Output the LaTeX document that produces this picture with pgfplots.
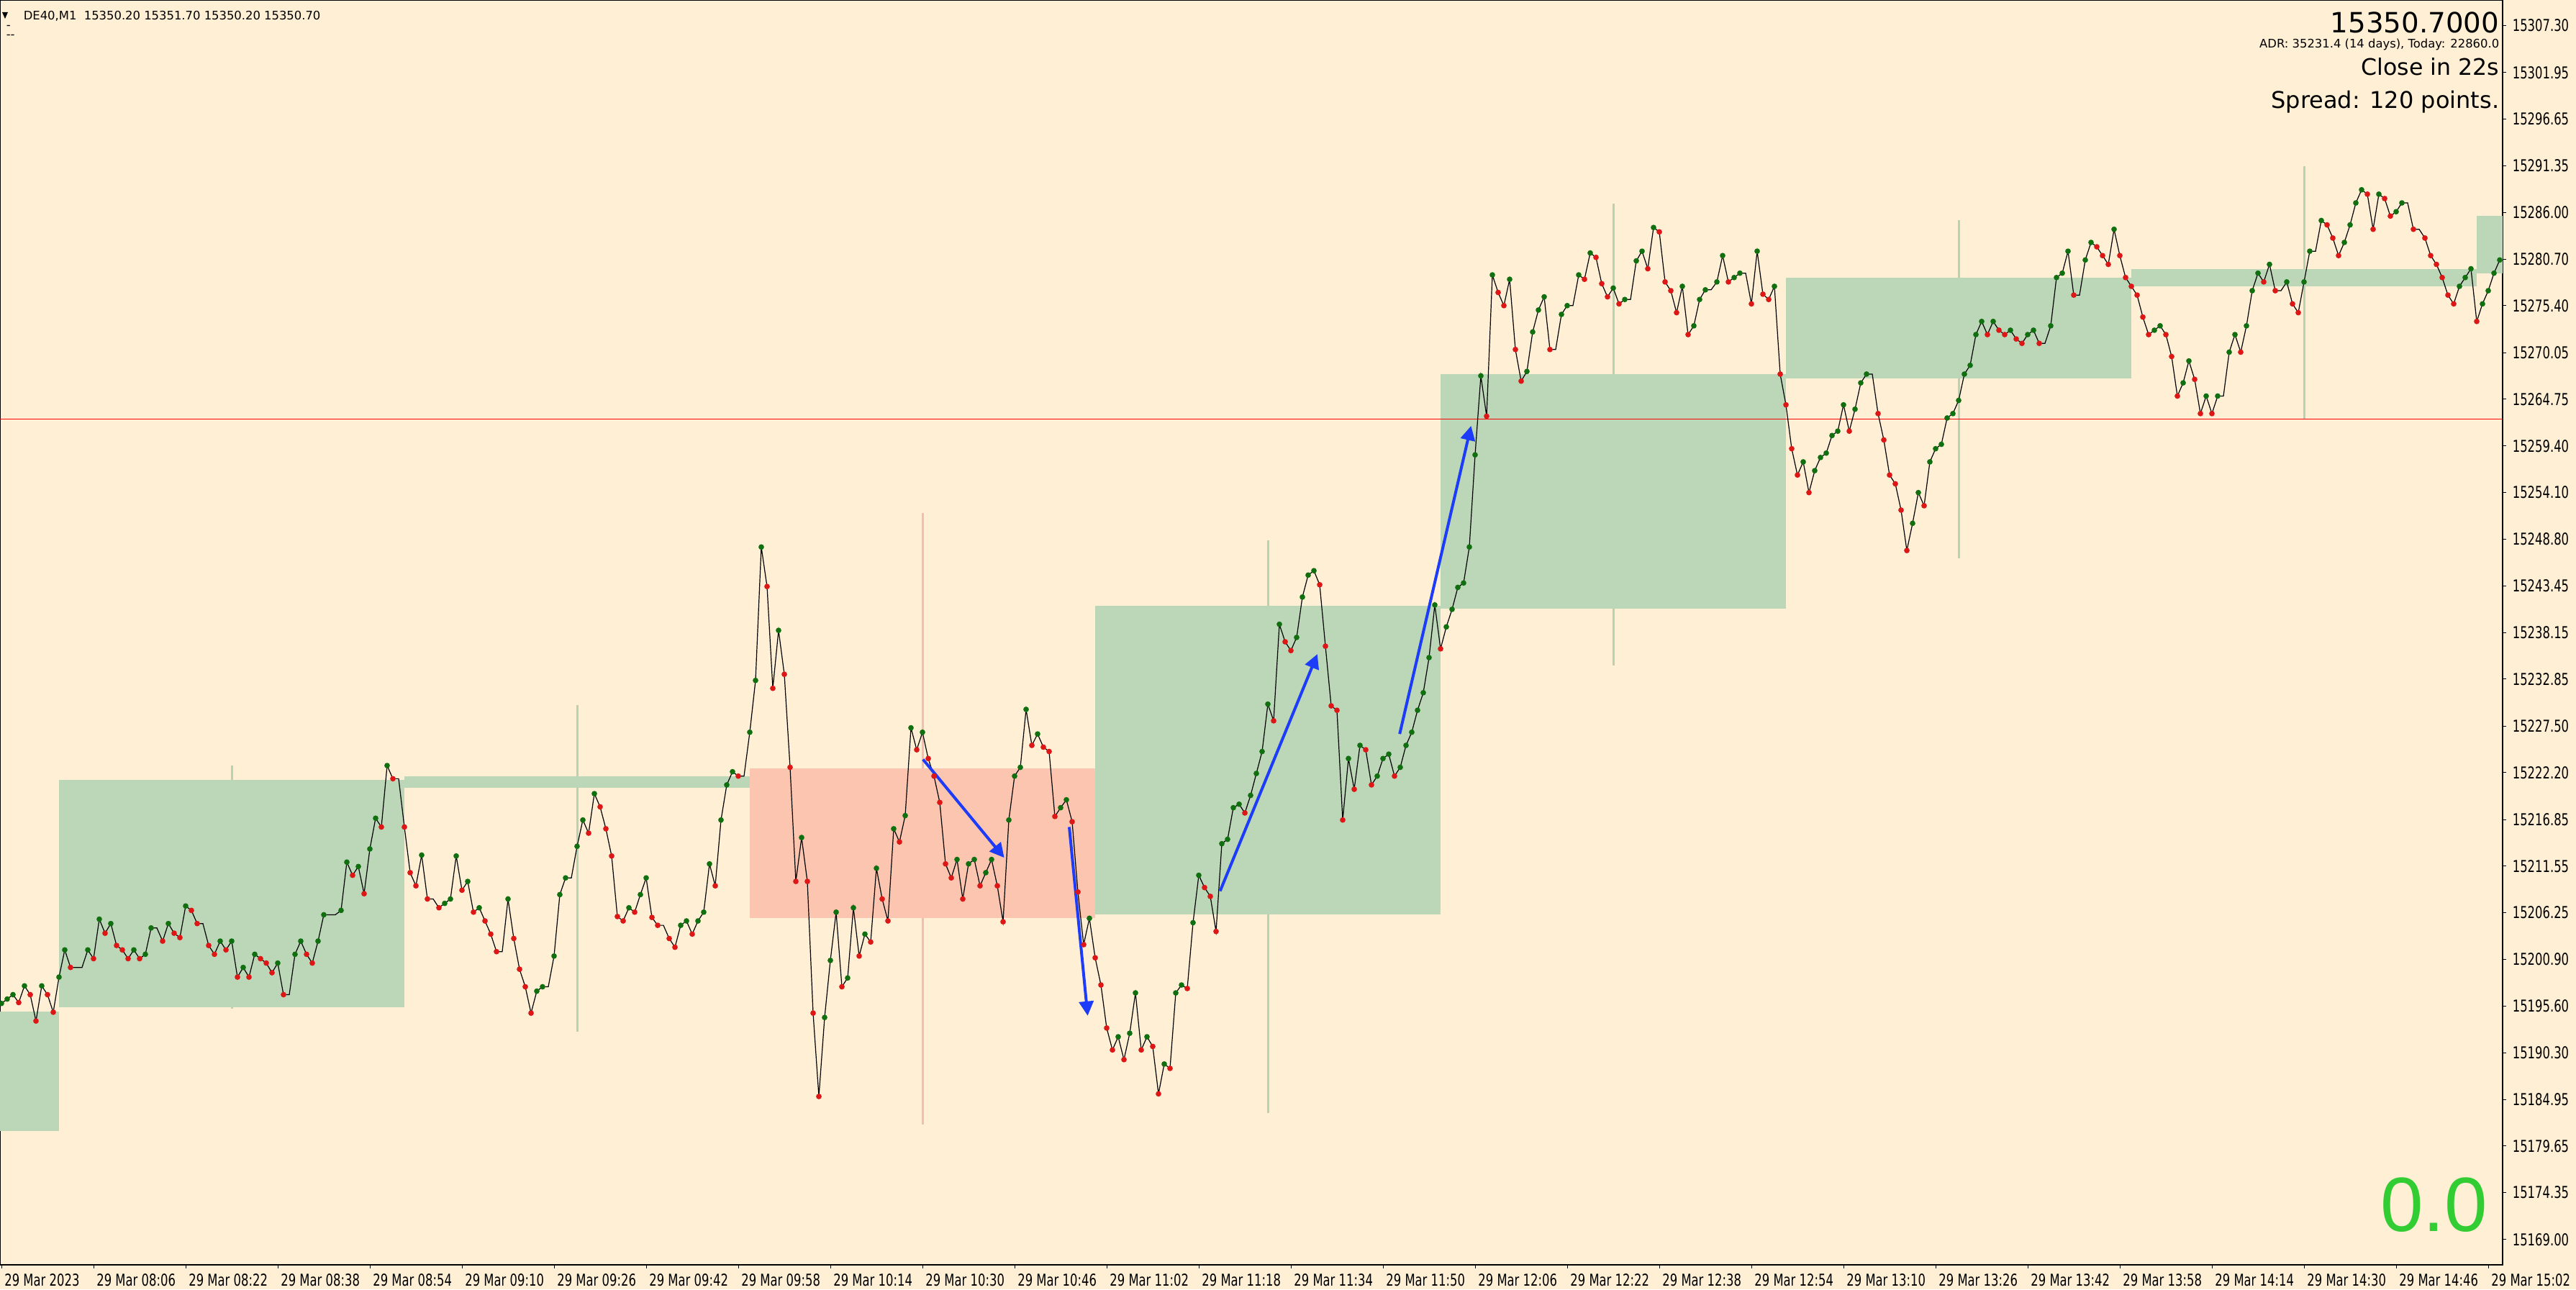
\documentclass[border=0pt]{standalone}
\usepackage{fontspec}
\setmainfont{DejaVu Sans}
\newfontfamily\labfont[FakeStretch=0.72]{DejaVu Sans}
\newfontfamily\numfont{Liberation Sans}
\usepackage{pgfplots}
\usepackage{pgfplotstable}
\pgfplotsset{compat=1.18}
\usetikzlibrary{arrows.meta}

\definecolor{chartbg}{RGB}{255,239,213}
\definecolor{boxgreen}{RGB}{188,215,183}
\definecolor{boxred}{RGB}{251,197,176}
\definecolor{wickgreen}{RGB}{184,210,178}
\definecolor{wickred}{RGB}{243,190,176}
\definecolor{dotgreen}{RGB}{16,112,16}
\definecolor{dotred}{RGB}{222,22,22}
\definecolor{arrowblue}{RGB}{28,60,250}
\definecolor{bignum}{RGB}{50,205,50}

% close per M1 bar: minute from 07:50, close, u = up dot, d = down dot, n = no dot
\pgfplotstableread{
m p c
0 15195.9 u
1 15196.4 u
2 15196.9 u
3 15196.0 d
4 15197.9 u
5 15196.9 d
6 15193.9 d
7 15197.9 u
8 15196.9 d
9 15194.9 d
10 15198.9 u
11 15202.0 u
12 15200.0 d
13 15200.0 n
14 15200.0 n
15 15202.0 u
16 15201.0 d
17 15205.5 u
18 15203.9 d
19 15205.0 u
20 15202.5 d
21 15202.0 d
22 15201.0 d
23 15202.0 u
24 15201.0 d
25 15201.5 u
26 15204.5 u
27 15204.5 n
28 15203.0 d
29 15205.0 u
30 15203.9 d
31 15203.4 d
32 15207.0 u
33 15206.5 d
34 15205.0 d
35 15205.0 n
36 15202.5 d
37 15201.5 d
38 15203.0 u
39 15202.0 d
40 15203.0 u
41 15198.9 d
42 15200.0 u
43 15198.9 d
44 15201.5 u
45 15201.0 d
46 15200.5 d
47 15199.4 d
48 15200.5 u
49 15196.9 d
50 15196.9 n
51 15201.5 u
52 15203.0 u
53 15201.5 d
54 15200.5 d
55 15203.0 u
56 15206.0 u
57 15206.0 n
58 15206.0 n
59 15206.5 u
60 15212.0 u
61 15210.5 d
62 15211.5 u
63 15208.4 d
64 15213.5 u
65 15217.0 u
66 15216.0 d
67 15223.0 u
68 15221.5 d
69 15221.5 n
70 15216.0 d
71 15210.8 d
72 15209.3 d
73 15212.8 u
74 15207.8 d
75 15207.8 n
76 15206.8 d
77 15207.3 u
78 15207.8 u
79 15212.7 u
80 15208.8 d
81 15209.8 u
82 15206.3 d
83 15206.8 u
84 15205.3 d
85 15203.8 d
86 15201.8 d
87 15201.8 n
88 15207.8 u
89 15203.3 d
90 15199.8 d
91 15197.8 d
92 15194.8 d
93 15197.3 u
94 15197.8 u
95 15197.8 n
96 15201.3 u
97 15208.3 u
98 15210.2 u
99 15210.2 n
100 15213.8 u
101 15216.8 u
102 15215.3 d
103 15219.8 u
104 15218.3 d
105 15215.8 d
106 15212.7 d
107 15205.8 d
108 15205.3 d
109 15206.8 u
110 15206.3 d
111 15208.3 u
112 15210.2 u
113 15205.7 d
114 15204.8 d
115 15204.8 n
116 15203.3 d
117 15202.3 d
118 15204.8 u
119 15205.3 u
120 15203.8 d
121 15205.3 u
122 15206.3 u
123 15211.8 u
124 15209.3 d
125 15216.8 u
126 15220.8 u
127 15222.3 u
128 15221.8 d
129 15221.8 n
130 15226.8 u
131 15232.7 u
132 15247.9 u
133 15243.4 d
134 15231.8 d
135 15238.4 u
136 15233.4 d
137 15222.8 d
138 15209.8 d
139 15214.8 u
140 15209.8 d
141 15194.8 d
142 15185.3 d
143 15194.3 u
144 15200.8 u
145 15206.3 u
146 15197.8 d
147 15198.8 u
148 15206.8 u
149 15201.3 d
150 15203.8 u
151 15202.9 d
152 15211.3 u
153 15207.8 d
154 15205.3 d
155 15215.8 u
156 15214.3 d
157 15217.3 u
158 15227.3 u
159 15224.8 d
160 15226.8 u
161 15223.8 d
162 15221.8 d
163 15218.8 d
164 15211.8 d
165 15210.2 d
166 15212.3 u
167 15207.8 d
168 15211.8 u
169 15212.3 u
170 15209.3 d
171 15210.8 u
172 15212.3 u
173 15209.3 d
174 15205.2 d
175 15216.8 u
176 15221.8 u
177 15222.8 u
178 15229.4 u
179 15225.3 d
180 15226.6 u
181 15225.1 d
182 15224.6 d
183 15217.2 d
184 15218.2 u
185 15219.1 u
186 15216.6 d
187 15208.6 d
188 15202.6 d
189 15205.6 u
190 15201.1 d
191 15198.0 d
192 15193.1 d
193 15190.6 d
194 15192.1 u
195 15189.5 d
196 15192.5 u
197 15197.1 u
198 15190.6 d
199 15192.1 u
200 15191.0 d
201 15185.6 d
202 15189.0 u
203 15188.5 d
204 15197.1 u
205 15198.0 u
206 15197.6 d
207 15205.1 u
208 15210.5 u
209 15209.1 d
210 15208.1 d
211 15204.1 d
212 15214.1 u
213 15214.6 u
214 15218.2 u
215 15218.6 u
216 15217.6 d
217 15219.6 u
218 15222.1 u
219 15224.6 u
220 15230.0 u
221 15228.1 d
222 15239.1 u
223 15237.1 d
224 15236.1 d
225 15237.6 u
226 15242.2 u
227 15244.7 u
228 15245.2 u
229 15243.6 d
230 15236.6 d
231 15229.8 d
232 15229.3 d
233 15216.8 d
234 15223.8 u
235 15220.3 d
236 15225.3 u
237 15224.8 d
238 15220.8 d
239 15221.8 u
240 15223.8 u
241 15224.3 u
242 15221.8 d
243 15222.8 u
244 15225.3 u
245 15226.8 u
246 15229.3 u
247 15231.3 u
248 15235.3 u
249 15241.3 u
250 15236.3 d
251 15238.8 u
252 15240.8 u
253 15243.3 u
254 15243.8 u
255 15247.9 u
256 15258.4 u
257 15267.4 u
258 15262.8 d
259 15278.9 u
260 15276.9 d
261 15275.4 d
262 15278.4 u
263 15270.4 d
264 15266.8 d
265 15267.9 u
266 15272.4 u
267 15274.9 u
268 15276.4 u
269 15270.4 d
270 15270.4 n
271 15274.4 u
272 15275.4 u
273 15275.4 n
274 15278.9 u
275 15278.4 d
276 15281.4 u
277 15280.9 d
278 15277.9 d
279 15276.4 d
280 15277.4 u
281 15275.6 d
282 15276.1 u
283 15276.1 n
284 15280.5 u
285 15281.6 u
286 15279.6 d
287 15284.3 u
288 15283.8 d
289 15278.1 d
290 15277.1 d
291 15274.6 d
292 15277.6 u
293 15272.1 d
294 15273.1 u
295 15276.1 u
296 15277.2 u
297 15277.2 n
298 15278.1 u
299 15281.1 u
300 15278.1 d
301 15278.6 u
302 15279.1 u
303 15279.1 n
304 15275.6 d
305 15281.6 u
306 15276.7 d
307 15276.1 d
308 15277.6 u
309 15267.6 d
310 15264.1 d
311 15259.1 d
312 15256.1 d
313 15257.6 u
314 15254.1 d
315 15256.6 u
316 15258.1 u
317 15258.6 u
318 15260.6 u
319 15261.1 u
320 15264.1 u
321 15261.1 d
322 15263.6 u
323 15266.6 u
324 15267.6 u
325 15267.6 n
326 15263.1 d
327 15260.1 d
328 15256.1 d
329 15255.1 d
330 15252.1 d
331 15247.5 d
332 15250.6 u
333 15254.1 u
334 15252.6 d
335 15257.6 u
336 15259.1 u
337 15259.6 u
338 15262.6 u
339 15263.1 u
340 15264.6 u
341 15267.6 u
342 15268.6 u
343 15272.1 u
344 15273.6 u
345 15272.1 d
346 15273.6 u
347 15272.6 d
348 15272.1 d
349 15272.6 u
350 15271.6 d
351 15271.1 d
352 15272.1 u
353 15272.6 u
354 15271.1 d
355 15271.1 n
356 15273.1 u
357 15278.6 u
358 15279.1 u
359 15281.6 u
360 15276.6 d
361 15276.6 n
362 15280.6 u
363 15282.6 u
364 15282.1 d
365 15281.1 d
366 15280.1 d
367 15284.1 u
368 15281.1 d
369 15278.6 d
370 15277.6 d
371 15276.6 d
372 15274.1 d
373 15272.1 d
374 15272.6 u
375 15273.1 u
376 15272.1 d
377 15269.6 d
378 15265.1 d
379 15266.6 u
380 15269.1 u
381 15267.0 d
382 15263.1 d
383 15265.1 u
384 15263.1 d
385 15265.1 u
386 15265.1 n
387 15270.1 u
388 15272.1 u
389 15270.1 d
390 15273.1 u
391 15277.1 u
392 15279.1 u
393 15278.1 d
394 15280.1 u
395 15277.1 d
396 15277.1 n
397 15278.1 u
398 15275.6 d
399 15274.6 d
400 15278.1 u
401 15281.6 u
402 15281.6 n
403 15285.1 u
404 15284.6 d
405 15283.1 d
406 15281.1 d
407 15282.6 u
408 15284.6 u
409 15287.1 u
410 15288.6 u
411 15288.1 d
412 15284.1 d
413 15288.1 u
414 15287.6 d
415 15285.6 d
416 15286.1 u
417 15287.1 u
418 15287.1 n
419 15284.1 d
420 15284.1 n
421 15283.1 d
422 15281.1 d
423 15280.1 d
424 15278.6 d
425 15276.6 d
426 15275.6 d
427 15277.6 u
428 15278.6 u
429 15279.6 u
430 15273.6 d
431 15275.6 u
432 15277.1 u
433 15279.1 u
434 15280.6 u
}\closes

\begin{document}
\begin{tikzpicture}
\useasboundingbox (0,0) rectangle (895pt,448pt);
\fill[chartbg] (0,0) rectangle (895pt,448pt);
\begin{axis}[
    at={(0pt,8.5pt)}, anchor=south west,
    scale only axis, width=869.5pt, height=439.5pt,
    xmin=-0.25, xmax=434.5, ymin=15166.12, ymax=15310.22,
    axis line style={black, line width=0.3pt},
    xtick pos=left, ytick pos=right,
    tick align=outside, major tick length=1.25pt,
    tick style={black, line width=0.25pt},
    xtick={0,16,...,432},
    xticklabels={29 Mar 2023, 29 Mar 08:06, 29 Mar 08:22, 29 Mar 08:38, 29 Mar 08:54,
      29 Mar 09:10, 29 Mar 09:26, 29 Mar 09:42, 29 Mar 09:58, 29 Mar 10:14, 29 Mar 10:30,
      29 Mar 10:46, 29 Mar 11:02, 29 Mar 11:18, 29 Mar 11:34, 29 Mar 11:50, 29 Mar 12:06,
      29 Mar 12:22, 29 Mar 12:38, 29 Mar 12:54, 29 Mar 13:10, 29 Mar 13:26, 29 Mar 13:42,
      29 Mar 13:58, 29 Mar 14:14, 29 Mar 14:30, 29 Mar 14:46, 29 Mar 15:02},
    ytick={15307.30,15301.95,15296.65,15291.35,15286.00,15280.70,15275.40,15270.05,15264.75,
      15259.40,15254.10,15248.80,15243.45,15238.15,15232.85,15227.50,15222.20,15216.85,
      15211.55,15206.25,15200.90,15195.60,15190.30,15184.95,15179.65,15174.35,15169.00},
    yticklabels={15307.30,15301.95,15296.65,15291.35,15286.00,15280.70,15275.40,15270.05,15264.75,
      15259.40,15254.10,15248.80,15243.45,15238.15,15232.85,15227.50,15222.20,15216.85,
      15211.55,15206.25,15200.90,15195.60,15190.30,15184.95,15179.65,15174.35,15169.00},
    ticklabel style={font=\labfont\fontsize{5.7}{6}\selectfont, inner sep=0pt},
    xticklabel style={anchor=north west, xshift=0.9pt, yshift=-1.75pt},
    yticklabel style={anchor=west, xshift=2pt},
]
% hourly range boxes: wick first, body on top
\addplot[wickgreen, line width=0.75pt] coordinates {(40,15195.3) (40,15223.0)};
\addplot[wickgreen, line width=0.75pt] coordinates {(100,15192.7) (100,15229.9)};
\addplot[wickred, line width=0.75pt] coordinates {(160,15182.1) (160,15251.8)};
\addplot[wickgreen, line width=0.75pt] coordinates {(220,15183.4) (220,15248.7)};
\addplot[wickgreen, line width=0.75pt] coordinates {(280,15234.4) (280,15287.0)};
\addplot[wickgreen, line width=0.75pt] coordinates {(340,15246.6) (340,15285.1)};
\addplot[wickgreen, line width=0.75pt] coordinates {(400,15262.5) (400,15291.3)};

\addplot[fill=boxgreen, draw=none] coordinates {(-5,15181.4) (10,15181.4) (10,15194.95) (-5,15194.95)} --cycle;
\addplot[fill=boxgreen, draw=none] coordinates {(10,15195.5) (70,15195.5) (70,15221.4) (10,15221.4)} --cycle;
\addplot[fill=boxgreen, draw=none] coordinates {(70,15220.5) (130,15220.5) (130,15221.8) (70,15221.8)} --cycle;
\addplot[fill=boxred, draw=none] coordinates {(130,15205.6) (190,15205.6) (190,15222.7) (130,15222.7)} --cycle;
\addplot[fill=boxgreen, draw=none] coordinates {(190,15206.05) (250,15206.05) (250,15241.2) (190,15241.2)} --cycle;
\addplot[fill=boxgreen, draw=none] coordinates {(250,15240.9) (310,15240.9) (310,15267.6) (250,15267.6)} --cycle;
\addplot[fill=boxgreen, draw=none] coordinates {(310,15267.1) (370,15267.1) (370,15278.6) (310,15278.6)} --cycle;
\addplot[fill=boxgreen, draw=none] coordinates {(370,15277.6) (430,15277.6) (430,15279.6) (370,15279.6)} --cycle;
\addplot[fill=boxgreen, draw=none] coordinates {(430,15279.1) (440,15279.1) (440,15285.6) (430,15285.6)} --cycle;

% level line
\addplot[red, line width=0.3pt] coordinates {(-1,15262.5) (436,15262.5)};

% close line and up/down dots
\addplot[black, line width=0.3pt] table[x=m, y=p] {\closes};
\addplot[scatter, only marks, scatter src=explicit symbolic, mark=*, mark size=0.75pt,
    scatter/classes={u={mark=*, fill=dotgreen, draw=dotgreen}, d={mark=*, fill=dotred, draw=dotred},
      n={mark=none}}]
    table[x=m, y=p, meta=c] {\closes};

% drawn arrows
\addplot[arrowblue, line width=1pt, -{Triangle[length=5pt, width=5pt]}] coordinates {(160.1,15223.7) (174.2,15212.5)};
\addplot[arrowblue, line width=1pt, -{Triangle[length=5pt, width=5pt]}] coordinates {(185.5,15216.0) (188.7,15194.5)};
\addplot[arrowblue, line width=1pt, -{Triangle[length=5pt, width=5pt]}] coordinates {(211.7,15208.7) (228.6,15235.7)};
\addplot[arrowblue, line width=1pt, -{Triangle[length=5pt, width=5pt]}] coordinates {(242.9,15226.6) (255.3,15261.7)};
\end{axis}

% chart window texts
\fill[black] (0.75pt,443.75pt) -- (2.75pt,443.75pt) -- (1.75pt,441.5pt) -- cycle;
\node[anchor=base west, inner sep=0pt, font=\fontsize{4.1}{5}\selectfont] at (8pt,441.1pt)
  {DE40,M1\ \ 15350.20 15351.70 15350.20 15350.70};
\node[anchor=base west, inner sep=0pt, font=\fontsize{4.1}{5}\selectfont] at (2pt,437.75pt) {-};
\node[anchor=base west, inner sep=0pt, font=\fontsize{4.1}{5}\selectfont] at (2pt,434.5pt) {-{}-};

\node[anchor=base east, inner sep=0pt, font=\fontsize{9.7}{11}\selectfont] at (868.5pt,436.5pt) {15350.7000};
\node[anchor=base east, inner sep=0pt, font=\fontsize{4.1}{5}\selectfont] at (868.5pt,431.25pt) {ADR: 35231.4 (14 days), Today: 22860.0};
\node[anchor=base east, inner sep=0pt, font=\fontsize{7.9}{9}\selectfont] at (868.5pt,421.75pt) {Close in 22s};
\node[anchor=base east, inner sep=0pt, font=\fontsize{8}{9}\selectfont] at (868.5pt,410.25pt) {Spread: 120 points.};

\node[anchor=base east, inner sep=0pt, text=bignum, font=\numfont\fontsize{26.75}{30}\selectfont] at (864.5pt,20.1pt) {0.0};
\end{tikzpicture}
\end{document}
